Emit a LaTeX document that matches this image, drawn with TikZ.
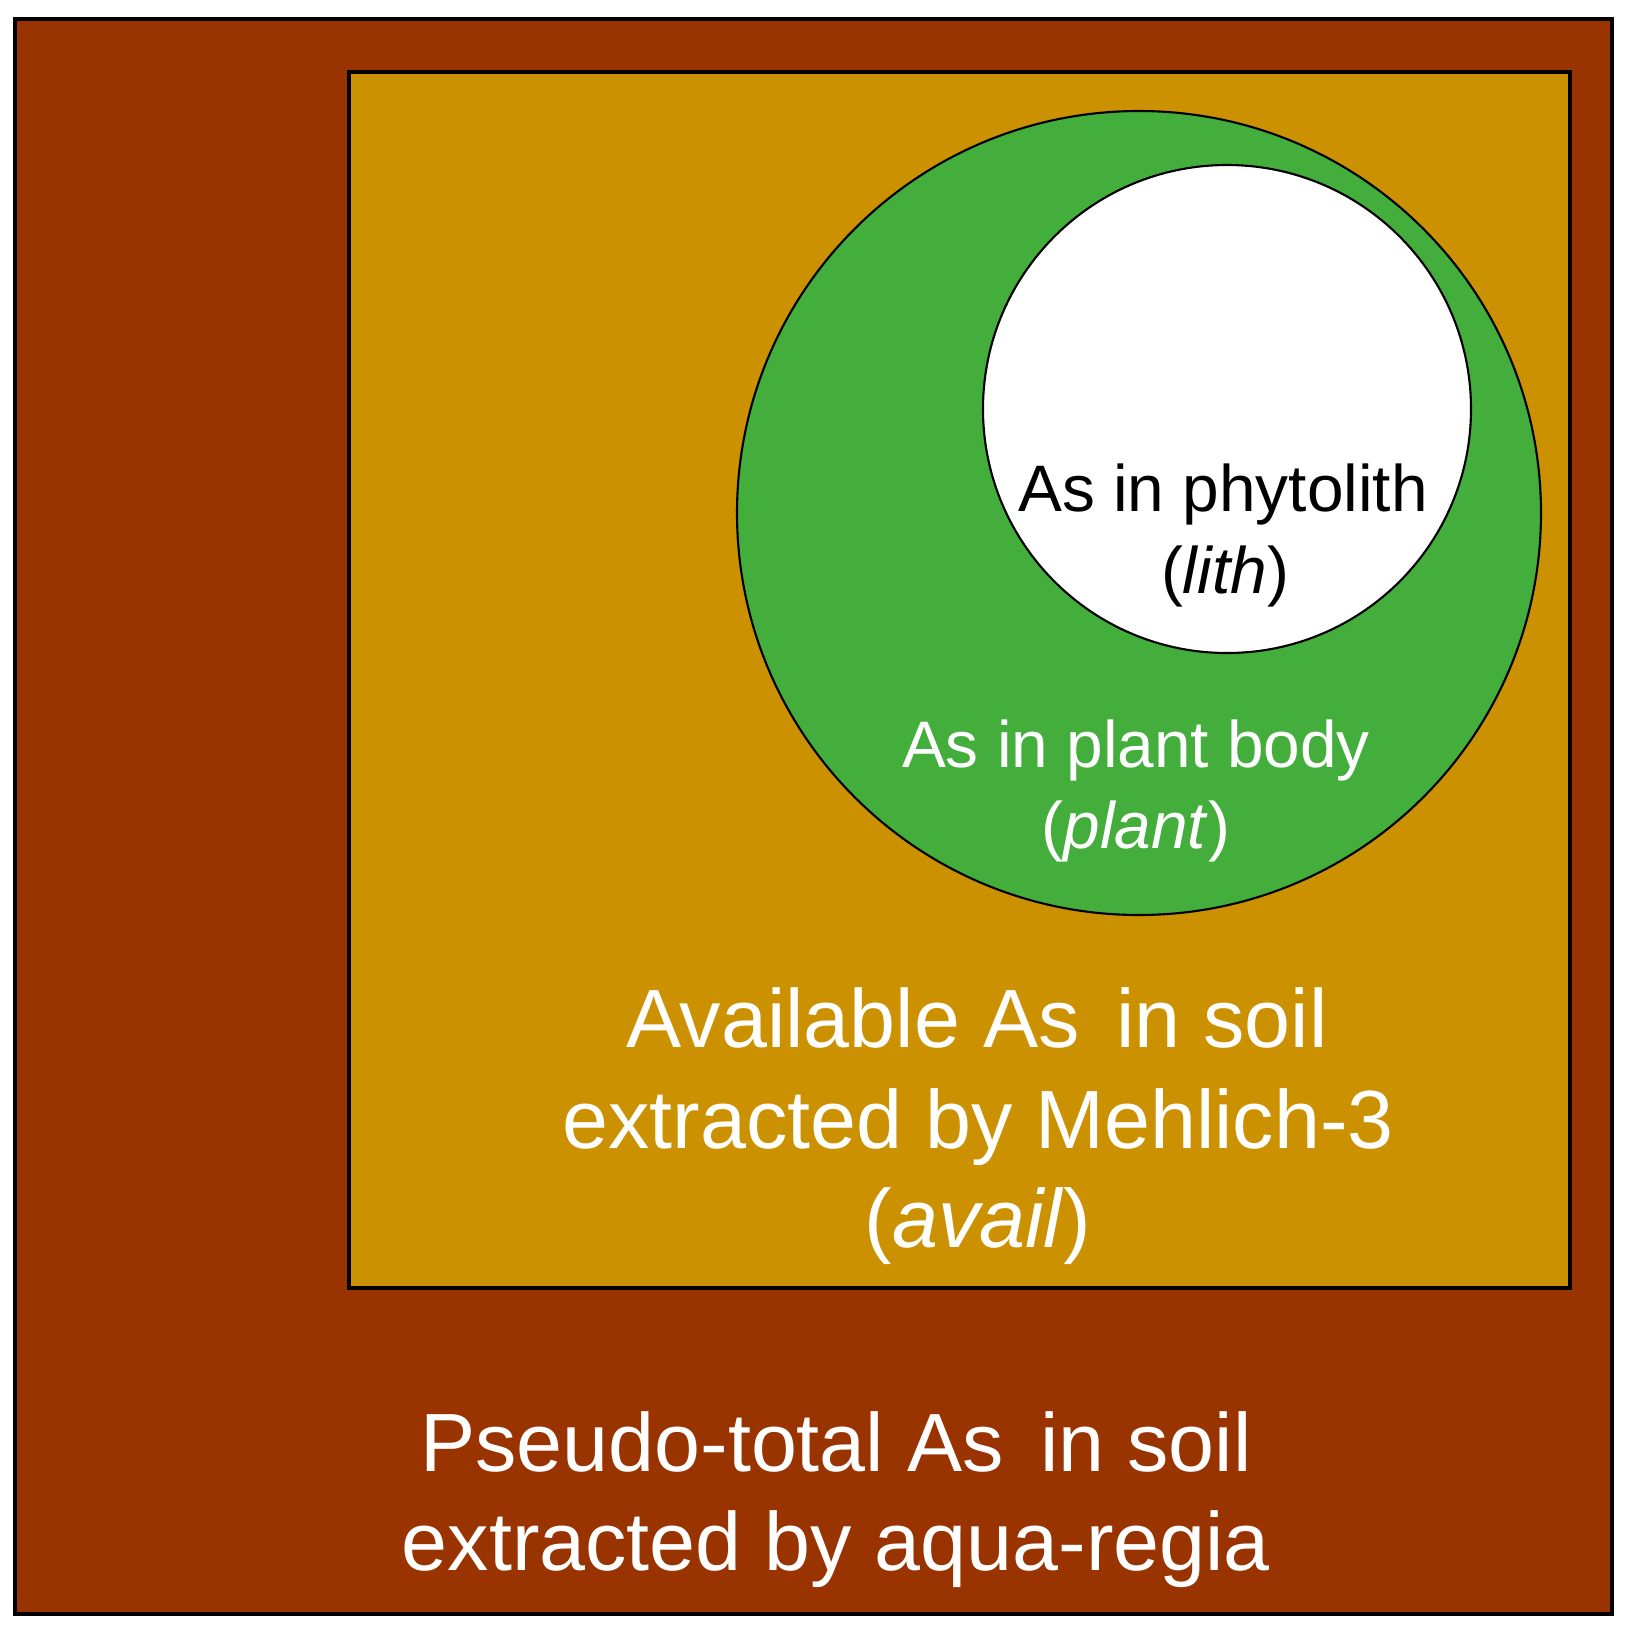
\documentclass[tikz,border=0pt]{standalone}
\usepackage{fontspec}
\setmainfont{Liberation Sans}
\definecolor{soilbrown}{HTML}{993300}
\definecolor{availgold}{HTML}{CC9100}
\definecolor{plantgreen}{HTML}{43AE3B}
\begin{document}
\begin{tikzpicture}[x=0.01cm,y=-0.01cm,
  frame/.style={draw=black,line width=0.9pt},
  ring/.style={draw=black,line width=0.6pt},
  bigtxt/.style={anchor=base,inner sep=0pt,text=white,font=\fontsize{23.5}{28}\selectfont},
  smalltxt/.style={anchor=base,inner sep=0pt,font=\fontsize{18.7}{22}\selectfont}]
\useasboundingbox (0,0) rectangle (1636,1636);
\draw[frame,fill=soilbrown] (15,19) rectangle (1612,1614);
\draw[frame,fill=availgold] (349,72) rectangle (1570,1288);
\draw[ring,fill=plantgreen] (1139,513) circle[radius=402];
\draw[ring,fill=white] (1227,409) circle[radius=244];
\node[smalltxt,text=black] (lith1) at (1223,511) {As in phytolith};
\node[smalltxt,text=black] (lith2) at (1225,593) {(\textit{lith})};
\node[smalltxt,text=white] (plant1) at (1136,767) {As in plant body};
\node[smalltxt,text=white] (plant2) at (1136,848) {(\textit{plant})};
\node[bigtxt] (avail1) at (977,1047) {Available As\, in soil};
\node[bigtxt] (avail2) at (978,1148) {extracted by Mehlich-3};
\node[bigtxt] (avail3) at (978,1247) {(\textit{avail})};
\node[bigtxt] (tot1) at (836,1471) {Pseudo-total As\, in soil};
\node[bigtxt] (tot2) at (836,1570) {extracted by aqua-regia};
\end{tikzpicture}
\end{document}
